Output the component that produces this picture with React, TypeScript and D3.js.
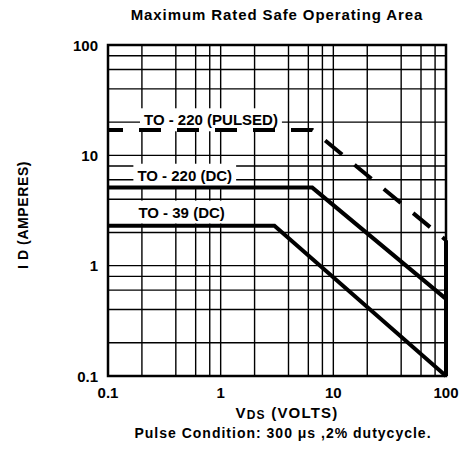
import React, { useLayoutEffect, useRef, useState } from 'react';
import * as d3 from 'd3';

// decade ticks on both axes
const xTickValues = [0.1, 1, 10, 100];
const xTickLabels = ['0.1', '1', '10', '100'];
const yTickValues = [0.1, 1, 10, 100];
const yTickLabels = ['0.1', '1', '10', '100'];
const gridSteps = [2, 4, 6, 8];

// safe operating area curves (VDS volts, ID amperes)
const pulsedVds = [0.1, 6.5, 100];
const pulsedId = [17, 17, 1.7];
const pulsedLimitVds = [100, 100];
const pulsedLimitId = [1.7, 0.1];
const to220Vds = [0.1, 6.5, 100];
const to220Id = [5.1, 5.1, 0.5];
const to39Vds = [0.1, 3.0, 100];
const to39Id = [2.3, 2.3, 0.1];

// curve labels
const labelNames = ['TO - 220 (PULSED)', 'TO - 220 (DC)', 'TO - 39 (DC)'];
const labelVds = [0.82, 0.48, 0.45];
const labelId = [21, 6.6, 3.06];

const W = 459;
const H = 455;
const margin = { top: 45, right: 13, bottom: 79, left: 108 };
const FONT = '"Liberation Sans", Arial, Helvetica, sans-serif';

const x = d3.scaleLog().domain([0.1, 100]).range([margin.left, W - margin.right]);
const y = d3.scaleLog().domain([0.1, 100]).range([H - margin.bottom, margin.top]);

const gridValues: number[] = [];
[0.1, 1, 10].forEach(d => gridValues.push(...gridSteps.map(s => s * d), d * 10));

const line = d3.line<[number, number]>().x(d => x(d[0])).y(d => y(d[1]));
const zip = (a: number[], b: number[]) => a.map((v, i) => [v, b[i]] as [number, number]);

const Label = ({ text, vx, vy }: { text: string; vx: number; vy: number }) => {
  const ref = useRef<SVGTextElement>(null);
  const [box, setBox] = useState<DOMRect | null>(null);
  useLayoutEffect(() => {
    if (ref.current) setBox(ref.current.getBBox());
  }, [text]);
  return (
    <g>
      {box && (
        <rect x={box.x - 4} y={box.y - 3} width={box.width + 8} height={box.height + 6} fill="#fff" />
      )}
      <text ref={ref} x={x(vx)} y={y(vy)} textAnchor="middle" dominantBaseline="central"
        fontFamily={FONT} fontWeight="bold" fontSize={15}>{text}</text>
    </g>
  );
};

export default function App() {
  const [x0, x1] = x.range();
  const [y0, y1] = y.range();
  return (
    <svg width={W} height={H} style={{ position: 'absolute', left: 0, top: 0, background: '#fff' }}>
      <text x={277} y={20} textAnchor="middle" fontFamily={FONT} fontWeight="bold" fontSize={15}
        letterSpacing={0.9}>Maximum Rated Safe Operating Area</text>

      {/* grid */}
      <g stroke="#000" strokeWidth={1.4}>
        {gridValues.map(v => <line key={'gx' + v} x1={x(v)} x2={x(v)} y1={y1} y2={y0} />)}
        {gridValues.map(v => <line key={'gy' + v} x1={x0} x2={x1} y1={y(v)} y2={y(v)} />)}
      </g>

      {/* labels with white boxes */}
      {labelNames.map((t, i) => <Label key={t} text={t} vx={labelVds[i]} vy={labelId[i]} />)}

      {/* curves */}
      <g fill="none" stroke="#000" strokeWidth={4}>
        <path d={line(zip(pulsedVds, pulsedId)) || ''} strokeDasharray="22,16" strokeDashoffset={7} />
        <path d={line(zip(pulsedLimitVds, pulsedLimitId)) || ''} />
        <path d={line(zip(to220Vds, to220Id)) || ''} />
        <path d={line(zip(to39Vds, to39Id)) || ''} />
      </g>

      <rect x={x0} y={y1} width={x1 - x0} height={y0 - y1} fill="none" stroke="#000" strokeWidth={2.5} />

      {/* tick labels */}
      <g fontFamily={FONT} fontWeight="bold" fontSize={15}>
        {yTickValues.map((v, i) => (
          <text key={'yt' + v} x={x0 - 10} y={y(v)} textAnchor="end" dominantBaseline="central">{yTickLabels[i]}</text>
        ))}
        {xTickValues.map((v, i) => (
          <text key={'xt' + v} x={x(v)} y={398} textAnchor="middle">{xTickLabels[i]}</text>
        ))}
      </g>

      <text x={287} y={418} textAnchor="middle" fontFamily={FONT} fontWeight="bold" fontSize={15} letterSpacing={1.2}>
        V<tspan fontSize={12} dy={1}>DS</tspan><tspan dy={-1}> (VOLTS)</tspan>
      </text>
      <text x={283} y={438} textAnchor="middle" fontFamily={FONT} fontWeight="bold" fontSize={14} letterSpacing={1}>
        Pulse Condition:  300 μs ,2% dutycycle.
      </text>

      <text transform={`translate(28,215) rotate(-90)`} textAnchor="middle" fontFamily={FONT} fontWeight="bold"
        fontSize={14} letterSpacing={0.6}>
        I D (AMPERES)
      </text>
    </svg>
  );
}
